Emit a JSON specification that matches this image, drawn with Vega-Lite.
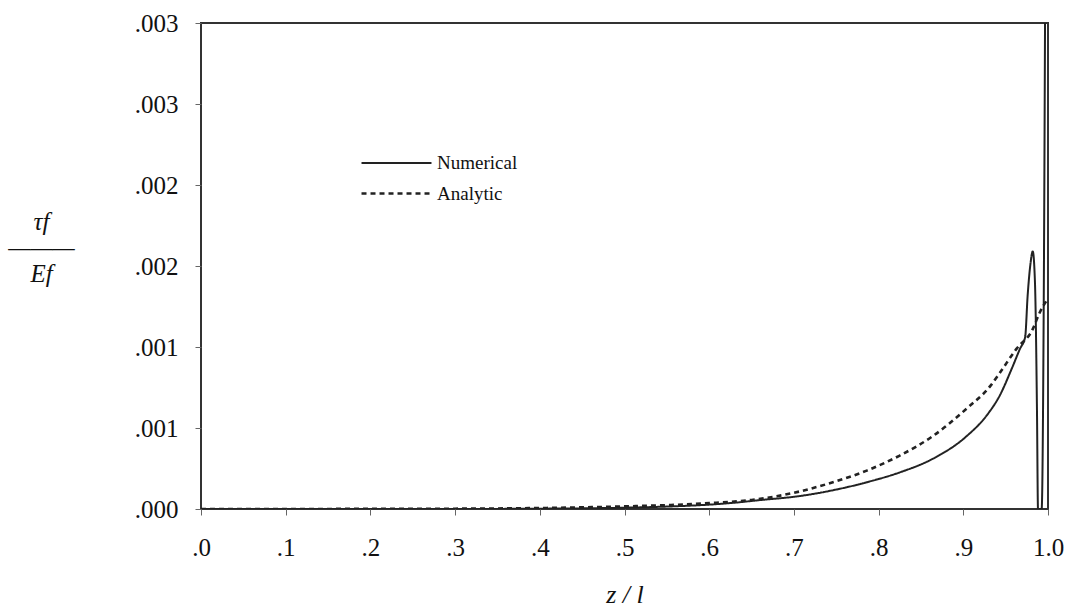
{
  "$schema": "https://vega.github.io/schema/vega-lite/v6.json",
  "autosize": "none",
  "width": 847,
  "height": 486,
  "padding": {"left": 201, "top": 23, "right": 24, "bottom": 101},
  "background": "white",
  "config": {
    "view": {"stroke": "#333", "strokeWidth": 2},
    "font": "Liberation Serif"
  },
  "data": {
    "values": [
      {"z": 0.0, "v": 0.0, "s": "Numerical"},
      {"z": 0.1, "v": 0.0, "s": "Numerical"},
      {"z": 0.2, "v": 0.0, "s": "Numerical"},
      {"z": 0.3, "v": 0.0, "s": "Numerical"},
      {"z": 0.4, "v": 0.000002, "s": "Numerical"},
      {"z": 0.45, "v": 0.000004, "s": "Numerical"},
      {"z": 0.5, "v": 0.000008, "s": "Numerical"},
      {"z": 0.55, "v": 0.000015, "s": "Numerical"},
      {"z": 0.6, "v": 0.000027, "s": "Numerical"},
      {"z": 0.628, "v": 0.000038, "s": "Numerical"},
      {"z": 0.66, "v": 0.000055, "s": "Numerical"},
      {"z": 0.707, "v": 0.00008, "s": "Numerical"},
      {"z": 0.75, "v": 0.00012, "s": "Numerical"},
      {"z": 0.786, "v": 0.000165, "s": "Numerical"},
      {"z": 0.825, "v": 0.000226, "s": "Numerical"},
      {"z": 0.864, "v": 0.00031, "s": "Numerical"},
      {"z": 0.904, "v": 0.00045, "s": "Numerical"},
      {"z": 0.928, "v": 0.00058, "s": "Numerical"},
      {"z": 0.943, "v": 0.0007, "s": "Numerical"},
      {"z": 0.9575, "v": 0.00087, "s": "Numerical"},
      {"z": 0.967, "v": 0.00099, "s": "Numerical"},
      {"z": 0.973, "v": 0.00106, "s": "Numerical"},
      {"z": 0.976, "v": 0.00132, "s": "Numerical"},
      {"z": 0.979, "v": 0.0015, "s": "Numerical"},
      {"z": 0.982, "v": 0.00159, "s": "Numerical"},
      {"z": 0.9846, "v": 0.0014, "s": "Numerical"},
      {"z": 0.987, "v": 0.0006, "s": "Numerical"},
      {"z": 0.9882, "v": 0.0, "s": "Numerical"},
      {"z": 0.9925, "v": 0.0, "s": "Numerical"},
      {"z": 0.995, "v": 0.0013, "s": "Numerical"},
      {"z": 0.9965, "v": 0.003, "s": "Numerical"},
      {"z": 0.0, "v": 0.0, "s": "Analytic"},
      {"z": 0.1, "v": 0.0, "s": "Analytic"},
      {"z": 0.2, "v": 0.000001, "s": "Analytic"},
      {"z": 0.3, "v": 0.000002, "s": "Analytic"},
      {"z": 0.4, "v": 0.000006, "s": "Analytic"},
      {"z": 0.5, "v": 0.000016, "s": "Analytic"},
      {"z": 0.55, "v": 0.000024, "s": "Analytic"},
      {"z": 0.6, "v": 0.000036, "s": "Analytic"},
      {"z": 0.65, "v": 0.000056, "s": "Analytic"},
      {"z": 0.7, "v": 0.0001, "s": "Analytic"},
      {"z": 0.746, "v": 0.000165, "s": "Analytic"},
      {"z": 0.786, "v": 0.000237, "s": "Analytic"},
      {"z": 0.825, "v": 0.00033, "s": "Analytic"},
      {"z": 0.864, "v": 0.00045, "s": "Analytic"},
      {"z": 0.904, "v": 0.00062, "s": "Analytic"},
      {"z": 0.932, "v": 0.00076, "s": "Analytic"},
      {"z": 0.943, "v": 0.00084, "s": "Analytic"},
      {"z": 0.963, "v": 0.00099, "s": "Analytic"},
      {"z": 0.982, "v": 0.00111, "s": "Analytic"},
      {"z": 0.99, "v": 0.00121, "s": "Analytic"},
      {"z": 1.0, "v": 0.0013, "s": "Analytic"}
    ]
  },
  "mark": {"type": "line", "interpolate": "monotone", "color": "#222", "clip": true},
  "encoding": {
    "x": {
      "field": "z", "type": "quantitative",
      "scale": {"domain": [0, 1], "nice": false, "zero": false},
      "axis": {
        "values": [0, 0.1, 0.2, 0.3, 0.4, 0.5, 0.6, 0.7, 0.8, 0.9, 1.0],
        "labelExpr": "datum.value >= 0.999 ? '1.0' : substring(format(datum.value + 1e-9, '.1f'), 1)",
        "grid": false, "domain": false,
        "tickSize": 6, "tickColor": "#666", "tickWidth": 1,
        "labelFont": "Liberation Serif", "labelFontSize": 25, "labelColor": "#111",
        "labelPadding": 20, "labelFlush": false,
        "title": "z / l", "titleFont": "Liberation Serif", "titleFontStyle": "italic",
        "titleFontWeight": "normal", "titleFontSize": 26, "titleColor": "#111", "titlePadding": 21
      }
    },
    "y": {
      "field": "v", "type": "quantitative",
      "scale": {"domain": [0, 0.003], "nice": false},
      "axis": {
        "values": [0, 0.0005, 0.001, 0.0015, 0.002, 0.0025, 0.003],
        "labelExpr": "substring(format(datum.value + 1e-9, '.3f'), 1)",
        "grid": false, "domain": false,
        "tickSize": 6, "tickColor": "#666", "tickWidth": 1,
        "labelFont": "Liberation Serif", "labelFontSize": 25, "labelColor": "#111",
        "labelPadding": 17,
        "title": ["τf", "———", "Ef"], "titleAngle": 0, "titleAlign": "center", "titleBaseline": "middle",
        "titleX": -160, "titleY": 198, "titleLineHeight": 26,
        "titleFont": "Liberation Serif", "titleFontStyle": "italic", "titleFontWeight": "normal",
        "titleFontSize": 25, "titleColor": "#111"
      }
    },
    "strokeDash": {
      "field": "s", "type": "nominal",
      "scale": {"domain": ["Numerical", "Analytic"], "range": [[1, 0], [5, 4]]},
      "legend": {
        "title": null, "orient": "none", "legendX": 185, "legendY": 130,
        "symbolType": "M-4,0H4", "symbolSize": 306, "symbolStrokeWidth": 2.3, "symbolStrokeColor": "#222",
        "labelFont": "Liberation Serif", "labelFontSize": 19, "labelColor": "#111", "labelOffset": 30,
        "rowPadding": 10, "padding": 0
      }
    },
    "strokeWidth": {
      "field": "s", "type": "nominal",
      "scale": {"domain": ["Numerical", "Analytic"], "range": [2, 2.6]},
      "legend": null
    }
  }
}
